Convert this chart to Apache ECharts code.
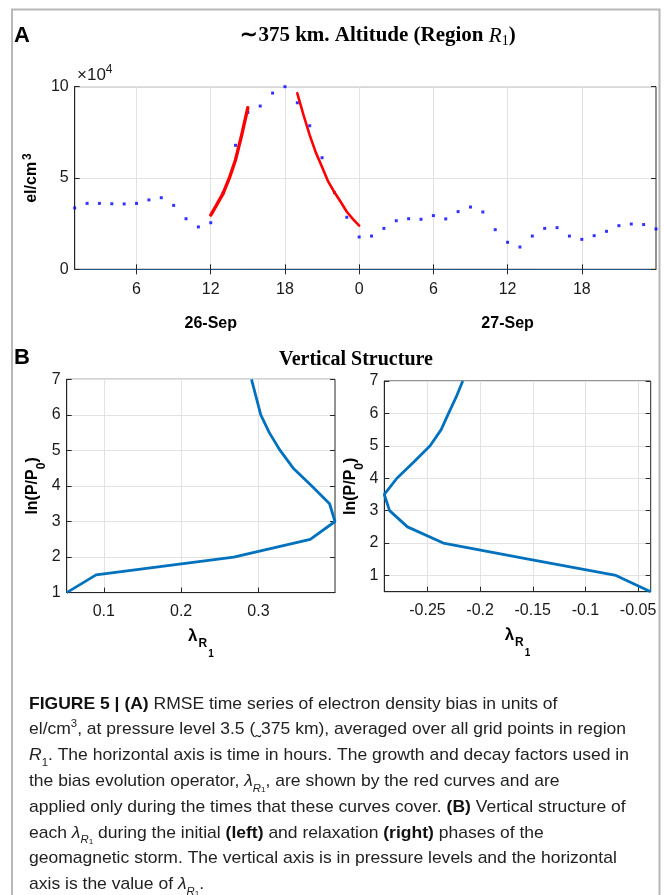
<!DOCTYPE html>
<html><head><meta charset="utf-8">
<script src="https://cdn.jsdelivr.net/npm/echarts@6/dist/echarts.min.js"></script>
<style>html,body{margin:0;padding:0;background:#fff}#c{width:664px;height:895px}</style>
</head><body><div id="c"></div><script>
// ---- Panel A data (values in units of 10^4 el/cm^3) ----
const hours = [1,2,3,4,5,6,7,8,9,10,11,12,13,14,15,16,17,18,19,20,21,22,23,24,25,26,27,28,29,30,31,32,33,34,35,36,37,38,39,40,41,42,43,44,45,46,47,48];
const densityE4 = [3.36,3.61,3.61,3.59,3.58,3.61,3.80,3.92,3.50,2.77,2.32,2.55,4.18,6.79,8.59,8.94,9.65,10.0,9.12,7.86,6.11,4.20,2.85,1.77,1.82,2.24,2.66,2.77,2.74,2.94,2.76,3.16,3.41,3.14,2.17,1.48,1.22,1.82,2.24,2.28,1.82,1.64,1.84,2.08,2.39,2.48,2.45,2.21];
const growthHours = [12,12.5,13,13.5,14,14.5,15];
const growthE4 = [2.97,3.55,4.16,4.99,5.99,7.35,8.85];
const decayHours = [19,19.5,20,20.5,21,21.5,22,22.5,23,23.5,24];
const decayE4 = [9.64,8.45,7.35,6.39,5.60,4.80,4.22,3.70,3.15,2.75,2.39];
const hourTicks = [6,12,18,24,30,36,42];
const hourTickLabels = ['6','12','18','0','6','12','18'];
const dayTicks = [12,36];
const dayLabels = ['26-Sep','27-Sep'];
// ---- Panel B data ----
const levelsInitial = [1,1.5,2,2.5,3,3.5,4,4.5,5,5.5,6,6.5,7];
const lambdaInitial = [0.052,0.090,0.268,0.367,0.399,0.392,0.369,0.345,0.328,0.314,0.303,0.297,0.291];
const levelsRelax = [0.5,1,1.5,2,2.5,3,3.5,4,4.5,5,5.5,6,6.5,7];
const lambdaRelax = [-0.038,-0.071,-0.153,-0.235,-0.269,-0.286,-0.291,-0.279,-0.263,-0.2475,-0.237,-0.230,-0.2228,-0.2165];
const lambdaTicksInitial = [0.1,0.2,0.3];
const lambdaTicksRelax = [-0.25,-0.2,-0.15,-0.1,-0.05];
const levelTicks = [1,2,3,4,5,6,7];

const AX = '#262626', GRID = '#e2e2e2', FS = 16;
const SANS = "'Liberation Sans', Arial, sans-serif";

function boxAxes(gi, xcfg, ycfg, xTicks, yTicks, xFmt) {
  const xs = [], ys = [];
  xs.push(Object.assign({
    gridIndex: gi, type: 'value', position: 'bottom',
    axisLine: {show: true, lineStyle: {color: AX, width: 1}},
    axisTick: {show: true, inside: true, length: 5, customValues: xTicks, lineStyle: {color: AX}},
    axisLabel: {customValues: xTicks, formatter: xFmt, fontSize: FS, color: '#1a1a1a', fontFamily: SANS, margin: 11},
    splitLine: {show: true, lineStyle: {color: GRID}}
  }, xcfg));
  xs.push({gridIndex: gi, type: 'value', position: 'top', min: xcfg.min, max: xcfg.max,
    axisLine: {show: false}, axisLabel: {show: false}, splitLine: {show: false},
    axisTick: {show: true, inside: true, length: 5, customValues: xTicks, lineStyle: {color: AX}}});
  ys.push(Object.assign({
    gridIndex: gi, type: 'value', position: 'left',
    axisLine: {show: true, lineStyle: {color: AX, width: 1}},
    axisTick: {show: true, inside: true, length: 5, customValues: yTicks, lineStyle: {color: AX}},
    axisLabel: {customValues: yTicks, fontSize: FS, color: '#1a1a1a', fontFamily: SANS, margin: 6},
    splitLine: {show: true, lineStyle: {color: GRID}}
  }, ycfg));
  ys.push({gridIndex: gi, type: 'value', position: 'right', min: ycfg.min, max: ycfg.max,
    axisLine: {show: false}, axisLabel: {show: false}, splitLine: {show: false},
    axisTick: {show: true, inside: true, length: 5, customValues: yTicks, lineStyle: {color: AX}}});
  return {xs, ys};
}

const A = boxAxes(0, {min: 1, max: 48, axisLine: {show: true, lineStyle: {color: '#22558a', width: 1.2}}},
  {min: 0, max: 10, name: '{b|el/cm}{sup|3}', nameLocation: 'middle', nameGap: 29, nameRotate: 90,
   nameTextStyle: {rich: {b: {fontSize: 16, fontWeight: 'bold', fontFamily: SANS, color: '#000', lineHeight: 20},
                          sup: {fontSize: 12, fontWeight: 'bold', fontFamily: SANS, color: '#000', lineHeight: 12, verticalAlign: 'top', padding:[0,0,0,2]}}}},
  hourTicks, [0,5,10], v => hourTickLabels[hourTicks.indexOf(v)]);
A.xs[0].axisLabel.margin = 12;
A.xs.push({gridIndex: 0, type: 'value', position: 'bottom', min: 1, max: 48,
  axisLine: {show: false}, axisTick: {show: false}, splitLine: {show: false},
  axisLabel: {customValues: dayTicks, formatter: v => dayLabels[dayTicks.indexOf(v)], fontSize: FS, fontWeight: 'bold', color: '#000', fontFamily: SANS, margin: 46}});

const lamName = '{l|λ}{r|R}{o|1}';
const lamRich = {l: {fontSize: 17, fontWeight: 'bold', fontFamily: SANS, color: '#000', lineHeight: 30, verticalAlign: 'top'},
  r: {fontSize: 12, fontWeight: 'bold', fontFamily: SANS, color: '#000', lineHeight: 30, verticalAlign: 'top', padding: [10,0,0,1]},
  o: {fontSize: 10, fontWeight: 'bold', fontFamily: SANS, color: '#000', lineHeight: 30, verticalAlign: 'top', padding: [22,0,0,1]}};
const lnName = '{b|ln(P/P}{s|0}{b|)}';
const lnRich = {b: {fontSize: 16, fontWeight: 'bold', fontFamily: SANS, color: '#000', lineHeight: 22},
  s: {fontSize: 12, fontWeight: 'bold', fontFamily: SANS, color: '#000', lineHeight: 22, verticalAlign: 'bottom', padding:[0,0,-4,0]}};

const L = boxAxes(1, {min: 'dataMin', max: 'dataMax', name: lamName, nameLocation: 'middle', nameGap: 35, nameTextStyle: {rich: lamRich}},
  {min: 1, max: 7, name: lnName, nameLocation: 'middle', nameGap: 21, nameRotate: 90, nameTextStyle: {rich: lnRich}},
  lambdaTicksInitial, levelTicks, v => String(v));
L.xs[1].min = 'dataMin'; L.xs[1].max = 'dataMax';
const R = boxAxes(2, {min: 'dataMin', max: 'dataMax', name: lamName, nameLocation: 'middle', nameGap: 35, nameTextStyle: {rich: lamRich}},
  {min: 0.5, max: 7, name: lnName, nameLocation: 'middle', nameGap: 19, nameRotate: 90, nameTextStyle: {rich: lnRich}},
  lambdaTicksRelax, levelTicks, v => String(v));
R.xs[1].min = 'dataMin'; R.xs[1].max = 'dataMax';

const xAxis = [...A.xs, ...L.xs, ...R.xs];
const yAxis = [...A.ys, ...L.ys, ...R.ys];

const zip = (a, b) => a.map((v, i) => [v, b[i]]);

const caption = [
  '{b|FIGURE 5 | (A)} RMSE time series of electron density bias in units of',
  'el/cm{sup|3}, at pressure level 3.5 (˷375 km), averaged over all grid points in region',
  '{i|R}{sub|1}. The horizontal axis is time in hours. The growth and decay factors used in',
  'the bias evolution operator, {i|λ}{isub|R}{sub2|1}, are shown by the red curves and are',
  'applied only during the times that these curves cover. {b|(B)} Vertical structure of',
  'each {i|λ}{isub|R}{sub2|1} during the initial {b|(left)} and relaxation {b|(right)} phases of the',
  'geomagnetic storm. The vertical axis is in pressure levels and the horizontal',
  'axis is the value of {i|λ}{isub|R}{sub2|1}.'
];
const CF = "'Liberation Sans', Arial, sans-serif";
const LH = 25.8, CFS = 17;
const capRich = {
  b: {fontWeight: 'bold', fontSize: CFS, fontFamily: CF, lineHeight: LH, fill: '#111'},
  i: {fontStyle: 'italic', fontSize: CFS, fontFamily: CF, lineHeight: LH},
  sup: {fontSize: 11, fontFamily: CF, lineHeight: 16, verticalAlign: 'top', padding: [2,0,0,0]},
  sub: {fontSize: 11, fontFamily: CF, lineHeight: 18, verticalAlign: 'bottom'},
  isub: {fontStyle: 'italic', fontSize: 11, fontFamily: CF, lineHeight: 18, verticalAlign: 'bottom'},
  sub2: {fontSize: 8, fontFamily: CF, lineHeight: 14, verticalAlign: 'bottom'}
};

const chart = echarts.init(document.getElementById('c'), null, {renderer: 'canvas'});
chart.setOption({
  animation: false,
  backgroundColor: '#fff',
  grid: [
    {left: 74.7, top: 86.7, width: 581.3, height: 182.6, show: true, borderColor: AX, borderWidth: 1},
    {left: 66.7, top: 379.3, width: 268.3, height: 213.3, show: true, borderColor: AX, borderWidth: 1},
    {left: 384.3, top: 381, width: 266.4, height: 210.7, show: true, borderColor: AX, borderWidth: 1}
  ],
  xAxis, yAxis,
  series: [
    {type: 'scatter', xAxisIndex: 0, yAxisIndex: 0, symbol: 'rect', symbolSize: 3, itemStyle: {color: '#0000ff'}, data: zip(hours, densityE4), z: 3},
    {type: 'line', xAxisIndex: 0, yAxisIndex: 0, showSymbol: false, lineStyle: {color: '#ff0000', width: 3.4, cap: 'round', join: 'round'}, data: zip(growthHours, growthE4), z: 4},
    {type: 'line', xAxisIndex: 0, yAxisIndex: 0, showSymbol: false, lineStyle: {color: '#ff0000', width: 2.6, cap: 'round', join: 'round'}, data: zip(decayHours, decayE4), z: 4},
    {type: 'line', xAxisIndex: 3, yAxisIndex: 2, showSymbol: false, lineStyle: {color: '#0072BD', width: 2.8}, data: zip(lambdaInitial, levelsInitial), clip: false},
    {type: 'line', xAxisIndex: 5, yAxisIndex: 4, showSymbol: false, lineStyle: {color: '#0072BD', width: 2.8}, data: zip(lambdaRelax, levelsRelax), clip: false}
  ],
  graphic: [
    {type: 'rect', shape: {x: 12, y: 9.5, width: 647.5, height: 900}, style: {fill: 'none', stroke: '#b8b8b8', lineWidth: 2}, silent: true},
    {type: 'text', x: 14, y: 25, style: {text: 'A', font: "bold 22px 'Liberation Sans', Arial, sans-serif", fill: '#000'}},
    {type: 'text', x: 14, y: 347, style: {text: 'B', font: "bold 22px 'Liberation Sans', Arial, sans-serif", fill: '#000'}},
    {type: 'text', x: 378, y: 36, style: {text: '{t|∼375 km. Altitude (Region }{ti|R}{ts|1}{t|)}', align: 'center', verticalAlign: 'middle',
      rich: {t: {font: "bold 21px 'Liberation Serif', serif", fill: '#000', lineHeight: 24},
             ti: {font: "italic 21px 'Liberation Serif', serif", fill: '#000', lineHeight: 24},
             ts: {font: "14px 'Liberation Serif', serif", fill: '#000', lineHeight: 18, verticalAlign: 'bottom'}}}},
    {type: 'text', x: 356, y: 360, style: {text: 'Vertical Structure', font: "bold 20px 'Liberation Serif', serif", fill: '#000', align: 'center', verticalAlign: 'middle'}},
    {type: 'text', x: 77, y: 64, style: {text: '{m|×10}{p|4}', rich: {m: {font: "17px 'Liberation Sans', Arial, sans-serif", fill: '#1a1a1a', lineHeight: 22}, p: {font: "12px 'Liberation Sans', Arial, sans-serif", fill: '#1a1a1a', lineHeight: 12, verticalAlign: 'top'}}}},
    {type: 'text', x: 29, y: 691, scaleX: 1.03, style: {text: caption.join('\n'), font: "17px 'Liberation Sans', Arial, sans-serif", fill: '#222', lineHeight: LH, rich: capRich}}
  ]
});
</script></body></html>
